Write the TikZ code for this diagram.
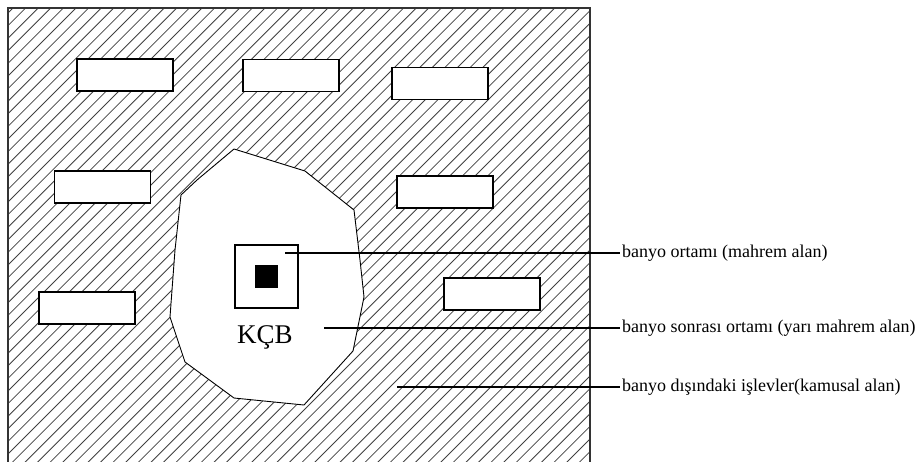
\documentclass[tikz,border=0pt]{standalone}
\usepackage{fontspec}
\setmainfont{Liberation Serif}
\begin{document}
\begin{tikzpicture}[x=1pt,y=-1pt,
    hatch/.style={black!75,line width=0.8pt},
    room/.style={draw,line width=1.2pt,fill=white,minimum width=96pt,minimum height=32pt,inner sep=0pt},
    lbl/.style={anchor=west,inner sep=2pt,font=\fontsize{18}{20}\selectfont}]
\clip (0,0) rectangle (919,461);
\begin{scope}
  \clip (8,8) rectangle (590,470);
  \foreach \c in {8.4,21.0,...,1080} \draw [hatch] (\c,0) -- (\c-480,480);
\end{scope}
\draw [line width=1.3pt,black!80] (8,470) -- (8,8) -- (590,8) -- (590,470);
\draw [fill=white,line width=0.9pt]
    (234,149) -- (305,171) -- (354,210) -- (360,260) -- (364,297) -- (353,351)
    -- (304,405) -- (234,398) -- (185,362) -- (170,317) -- (175,250) -- (181,195)
    -- (197,180) -- cycle;
\node [room] (r1) at (125,75) {};
\node [room] (r2) at (291,75.5) {};
\node [room] (r3) at (440,83.5) {};
\node [room] (r4) at (445,192) {};
\node [room] (r5) at (492,294) {};
\node [room] (r6) at (102.5,187) {};
\node [room] (r7) at (87,308) {};
\node [draw,line width=1.1pt,minimum size=63pt,inner sep=0pt] (sq) at (266.5,276.5) {};
\node [fill=black,minimum size=23pt,inner sep=0pt] (core) at (266.5,276.5) {};
\node [anchor=base,inner sep=0pt,font=\fontsize{27}{30}\selectfont] (kcb) at (265,343) {KÇB};
\coordinate (c1) at (285,253);
\coordinate (c2) at (324,328);
\coordinate (c3) at (397,387);
\node [lbl] (l1) at (620,253) {banyo ortamı (mahrem alan)};
\node [lbl] (l2) at (620,328) {banyo sonrası ortamı (yarı mahrem alan)};
\node [lbl] (l3) at (620,387) {banyo dışındaki işlevler(kamusal alan)};
\draw [line width=1.1pt] (c1) -- (l1.west);
\draw [line width=1.1pt] (c2) -- (l2.west);
\draw [line width=1.1pt] (c3) -- (l3.west);
\end{tikzpicture}
\end{document}
